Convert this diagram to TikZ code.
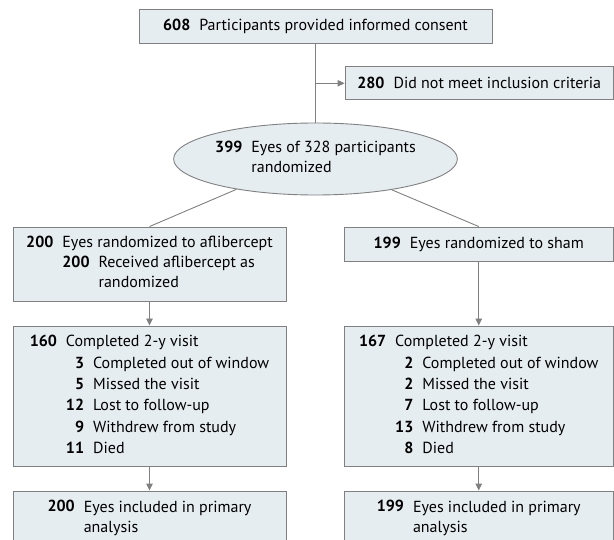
\documentclass[tikz,border=0pt]{standalone}
\usepackage{fontspec}
\setmainfont{PT Sans}
\usetikzlibrary{shapes.geometric,arrows.meta}
\definecolor{boxfill}{HTML}{E6EDF1}
\definecolor{boxline}{HTML}{808080}
\newcommand{\nb}[1]{\textbf{#1}}
\tikzset{
  box/.style={draw=boxline, fill=boxfill, line width=0.9pt, inner sep=0pt,
    font=\fontsize{16}{20}\selectfont},
  ellbox/.style={box, ellipse},
  conn/.style={draw=boxline, line width=0.9pt},
  arr/.style={conn, -{Triangle[width=6.5pt,length=7pt]}}
}
\begin{document}
\begin{tikzpicture}[x=1pt,y=-1pt]
\useasboundingbox (0,0) rectangle (614,540);

\node[box, minimum width=353pt, minimum height=34pt] (top) at (315.5,26.3)
  {\nb{608}\hspace{9pt}Participants provided informed consent};

\node[box, minimum width=268.5pt, minimum height=33.3pt] (excl) at (479.25,83.3)
  {\nb{280}\hspace{9pt}Did not meet inclusion criteria};

\node[ellbox, minimum width=257pt, minimum height=72pt] (ell) at (315.5,159)
  {\begin{tabular}{@{}r@{\hspace{9pt}}l@{}}
   \nb{399} & Eyes of 328 participants\\
            & randomized
   \end{tabular}};

\node[box, minimum width=273pt, minimum height=74pt] (b2l) at (149.5,264)
  {\begin{tabular}{@{}r@{\hspace{9pt}}r@{\hspace{9pt}}l@{}}
   \nb{200} & \multicolumn{2}{@{}l@{}}{Eyes randomized to aflibercept}\\
            & \nb{200} & Received aflibercept as\\
            &          & randomized
   \end{tabular}};

\node[box, minimum width=269.5pt, minimum height=34pt] (b2r) at (478.75,244)
  {\nb{199}\hspace{9pt}Eyes randomized to sham};

\node[box, minimum width=273pt, minimum height=140pt] (b3l) at (149.5,396)
  {\renewcommand\arraystretch{1.07}%
   \begin{tabular}{@{}r@{\hspace{9pt}}r@{\hspace{9pt}}l@{}}
   \nb{160} & \multicolumn{2}{@{}l@{}}{Completed 2-y visit}\\
            & \nb{3}  & Completed out of window\\
            & \nb{5}  & Missed the visit\\
            & \nb{12} & Lost to follow-up\\
            & \nb{9}  & Withdrew from study\\
            & \nb{11} & Died
   \end{tabular}};

\node[box, minimum width=269.5pt, minimum height=140pt] (b3r) at (478.75,396)
  {\renewcommand\arraystretch{1.07}%
   \begin{tabular}{@{}r@{\hspace{9pt}}r@{\hspace{9pt}}l@{}}
   \nb{167} & \multicolumn{2}{@{}l@{}}{Completed 2-y visit}\\
            & \nb{2}  & Completed out of window\\
            & \nb{2}  & Missed the visit\\
            & \nb{7}  & Lost to follow-up\\
            & \nb{13} & Withdrew from study\\
            & \nb{8}  & Died
   \end{tabular}};

\node[box, minimum width=273pt, minimum height=54pt] (b4l) at (149.5,518)
  {\begin{tabular}{@{}r@{\hspace{9pt}}l@{}}
   \nb{200} & Eyes included in primary\\
            & analysis
   \end{tabular}};

\node[box, minimum width=269.5pt, minimum height=54pt] (b4r) at (478.75,518)
  {\begin{tabular}{@{}r@{\hspace{9pt}}l@{}}
   \nb{199} & Eyes included in primary\\
            & analysis
   \end{tabular}};

\coordinate (split) at (315.5,83.3);
\draw[conn] (top.south) -- (ell.north);
\draw[arr] (split) -- (excl.west);
\draw[conn] (ell.201.7) -- (b2l.north);
\draw[conn] (ell.338.1) -- (b2r.north);
\draw[arr] (b2l.south) -- (b3l.north);
\draw[arr] (b2r.south) -- (b3r.north);
\draw[arr] (b3l.south) -- (b4l.north);
\draw[arr] (b3r.south) -- (b4r.north);
\end{tikzpicture}
\end{document}
